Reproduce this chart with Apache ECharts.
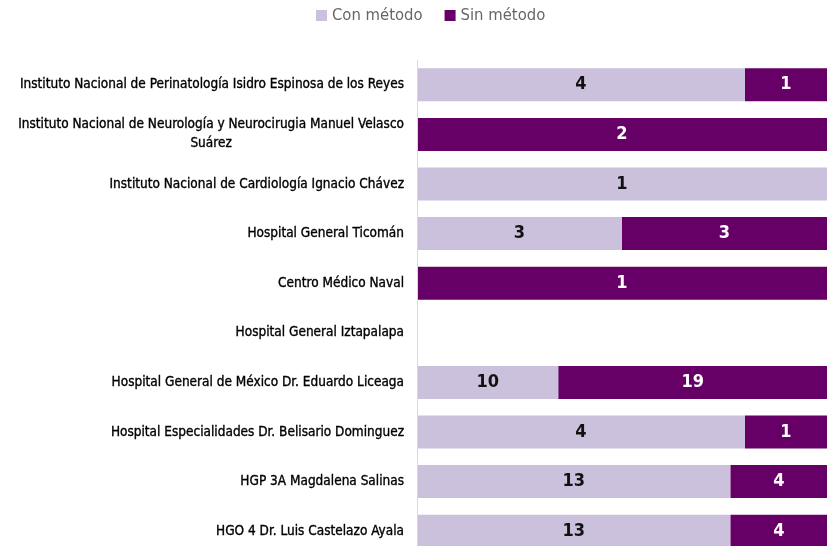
<!DOCTYPE html>
<html>
<head>
<meta charset="utf-8">
<script src="https://cdn.jsdelivr.net/npm/echarts@6/dist/echarts.min.js"></script>
<style>
  html, body { margin: 0; padding: 0; background: #fff; }
  #main { width: 837px; height: 546px; }
</style>
</head>
<body>
<div id="main"></div>
<script>
// categorias (de arriba hacia abajo)
var hospitales = [
  'Instituto Nacional de Perinatología Isidro Espinosa de los Reyes',
  'Instituto Nacional de Neurología y Neurocirugia Manuel Velasco\nSuárez',
  'Instituto Nacional de Cardiología Ignacio Chávez',
  'Hospital General Ticomán',
  'Centro Médico Naval',
  'Hospital General Iztapalapa',
  'Hospital General de México Dr. Eduardo Liceaga',
  'Hospital Especialidades Dr. Belisario Dominguez',
  'HGP 3A Magdalena Salinas',
  'HGO 4 Dr. Luis Castelazo Ayala'
];
var conMetodo = [4, 0, 1, 3, 0, 0, 10, 4, 13, 13];
var sinMetodo = [1, 2, 0, 3, 1, 0, 19, 1, 4, 4];

// porcentajes para la barra apilada al 100%
var conPct = [];
var sinPct = [];
for (var i = 0; i < hospitales.length; i++) {
  var total = conMetodo[i] + sinMetodo[i];
  conPct.push(total ? conMetodo[i] / total * 100 : 0);
  sinPct.push(total ? sinMetodo[i] / total * 100 : 0);
}

var fuente = "'Liberation Sans Narrow', 'DejaVu Sans Condensed', sans-serif";
var estiloEtiqueta = {
  fontSize: 13.5,
  fontFamily: fuente,
  color: '#000',
  textBorderColor: '#000',
  textBorderWidth: 0.35,
  lineHeight: 19
};

var myChart = echarts.init(document.getElementById('main'));

var option = {
  animation: false,
  legend: {
    top: 2,
    left: 311,
    itemWidth: 11,
    itemHeight: 11,
    itemGap: 22,
    icon: 'rect',
    textStyle: { color: '#666', fontSize: 16.5, fontFamily: fuente },
    data: ['Con método', 'Sin método']
  },
  grid: { left: 417, right: 10, top: 60, height: 496, outerBoundsMode: 'none', containLabel: false },
  xAxis: {
    type: 'value',
    min: 0,
    max: 100,
    show: false
  },
  yAxis: {
    type: 'category',
    inverse: true,
    data: hospitales,
    z: 5,
    axisLine: { show: true, lineStyle: { color: '#d9d9d9', width: 1 } },
    axisTick: { show: false },
    axisLabel: Object.assign({
      margin: 13,
      formatter: function (v) {
        var p = v.split('\n');
        if (p.length > 1) {
          return '{a|' + p[0] + '}\n{b|' + p[1] + '}';
        }
        return v;
      },
      rich: {
        a: Object.assign({}, estiloEtiqueta),
        b: Object.assign({ align: 'center' }, estiloEtiqueta)
      }
    }, estiloEtiqueta)
  },
  series: [
    {
      name: 'Con método',
      type: 'bar',
      stack: 'total',
      barWidth: 33,
      data: conPct,
      itemStyle: { color: '#cbc1dc' },
      label: {
        show: true,
        position: 'inside',
        color: '#111',
        fontSize: 18,
        fontWeight: 'bold',
        fontFamily: fuente,
        formatter: function (p) {
          var n = conMetodo[p.dataIndex];
          return n ? String(n) : '';
        }
      }
    },
    {
      name: 'Sin método',
      type: 'bar',
      stack: 'total',
      barWidth: 33,
      data: sinPct,
      itemStyle: { color: '#660066' },
      label: {
        show: true,
        position: 'inside',
        color: '#fff',
        fontSize: 18,
        fontWeight: 'bold',
        fontFamily: fuente,
        formatter: function (p) {
          var n = sinMetodo[p.dataIndex];
          return n ? String(n) : '';
        }
      }
    }
  ]
};

myChart.setOption(option);
</script>
</body>
</html>
